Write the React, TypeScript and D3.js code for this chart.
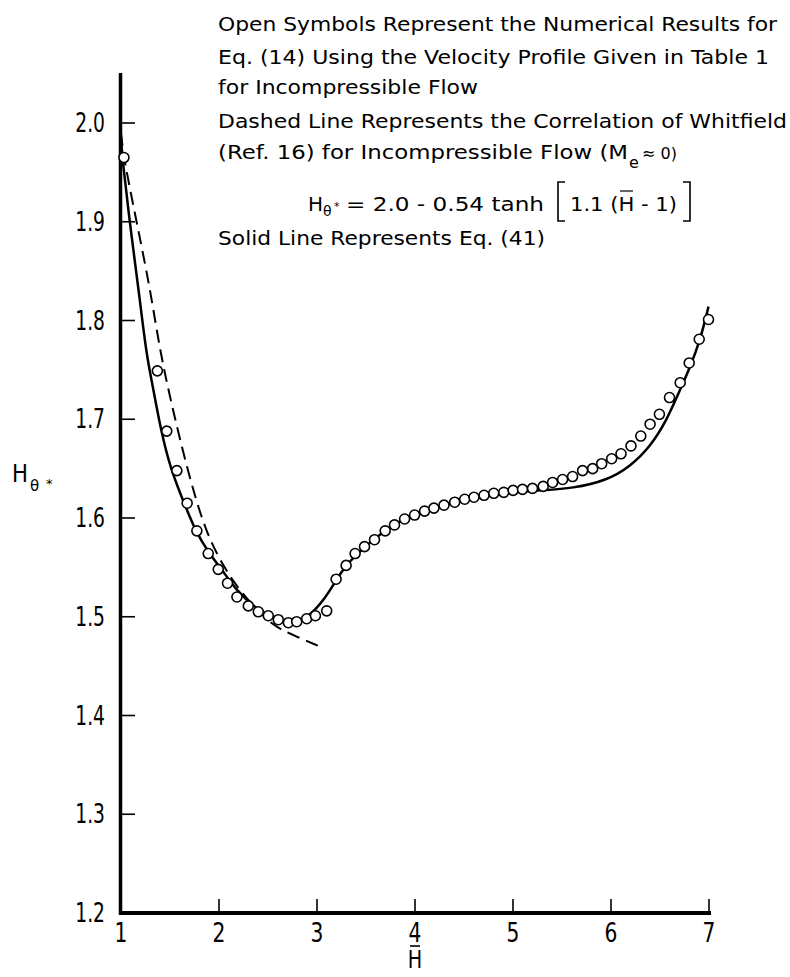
import React from "react";
import * as d3 from "d3";

const W = 790;
const H = 977;

// Open symbols: numerical results (Hbar, H_theta*)
const circleHbar = [1.03, 1.371, 1.467, 1.57, 1.675, 1.774, 1.89, 1.992, 2.087, 2.183, 2.299, 2.401, 2.503, 2.605, 2.708, 2.793, 2.895, 2.984, 3.099,
  3.195, 3.297, 3.389, 3.485, 3.587, 3.696, 3.791, 3.894, 3.996, 4.098, 4.193, 4.296, 4.405, 4.507, 4.602, 4.705, 4.804, 4.906, 5.001, 5.097, 5.199, 5.308,
  5.404, 5.506, 5.608, 5.71, 5.813, 5.905, 6.007, 6.102, 6.204, 6.304, 6.399, 6.494, 6.597, 6.706, 6.798, 6.9, 6.995];
const circleH = [1.965, 1.749, 1.688, 1.648, 1.615, 1.587, 1.564, 1.548, 1.534, 1.52, 1.511, 1.505, 1.501, 1.497, 1.494, 1.495, 1.498, 1.501, 1.506,
  1.538, 1.552, 1.564, 1.571, 1.578, 1.587, 1.593, 1.599, 1.603, 1.607, 1.61, 1.613, 1.616, 1.619, 1.621, 1.623, 1.625, 1.626, 1.628, 1.629, 1.63, 1.632,
  1.636, 1.639, 1.642, 1.648, 1.65, 1.655, 1.66, 1.665, 1.673, 1.683, 1.695, 1.705, 1.722, 1.737, 1.757, 1.781, 1.801];

// Solid line: Eq. (41)
const solidHbar = [1.0, 1.014, 1.116, 1.184, 1.26, 1.32, 1.406, 1.508, 1.644, 1.763, 1.9, 2.036, 2.173, 2.377, 2.616, 2.752, 2.922, 3.093, 3.195,
  3.3, 3.5, 3.7, 3.9, 4.1, 4.4, 4.7, 5.0, 5.274, 5.615, 5.956, 6.194, 6.399, 6.569, 6.706, 6.808, 6.91, 6.995];
const solidH = [1.985, 1.963, 1.878, 1.828, 1.765, 1.736, 1.689, 1.649, 1.615, 1.586, 1.564, 1.547, 1.527, 1.508, 1.495, 1.492, 1.5, 1.52, 1.537,
  1.553, 1.572, 1.588, 1.6, 1.608, 1.616, 1.622, 1.626, 1.628, 1.63, 1.638, 1.652, 1.672, 1.699, 1.73, 1.753, 1.78, 1.814];

// Dashed line: Whitfield correlation
const dashHbar = [1.0, 1.03, 1.184, 1.304, 1.4, 1.508, 1.627, 1.764, 1.9, 2.071, 2.207, 2.513, 2.718, 3.025];
const dashH = [1.99, 1.963, 1.888, 1.828, 1.768, 1.719, 1.669, 1.618, 1.578, 1.547, 1.527, 1.493, 1.483, 1.47];

const xTicks = [1, 2, 3, 4, 5, 6, 7];
const yTicks = [1.2, 1.3, 1.4, 1.5, 1.6, 1.7, 1.8, 1.9, 2.0];

const FONT = "'DejaVu Sans', 'Liberation Sans', sans-serif";

export default function App() {
  const x = d3.scaleLinear().domain([1, 7]).range([121, 709]);
  const y = d3.scaleLinear().domain([1.2, 2.0]).range([913, 123]);

  const line = d3
    .line<[number, number]>()
    .x((d) => x(d[0]))
    .y((d) => y(d[1]))
    .curve(d3.curveBasis);

  const solidPts = solidHbar.map((v, i) => [v, solidH[i]] as [number, number]);
  const dashPts = dashHbar.map((v, i) => [v, dashH[i]] as [number, number]);

  const headerLines = [
    { t: "Open Symbols Represent the Numerical Results for", y: 31, w: 559 },
    { t: "Eq. (14) Using the Velocity Profile Given in Table 1", y: 64, w: 551 },
    { t: "for  Incompressible Flow", y: 94, w: 260 },
    { t: "Dashed Line Represents the Correlation of Whitfield", y: 128, w: 569 },
    { t: "Solid Line Represents Eq. (41)", y: 245, w: 327 },
  ];

  return (
    <svg
      width={W}
      height={H}
      viewBox={`0 0 ${W} ${H}`}
      style={{ position: "absolute", left: 0, top: 0, background: "#fff" }}
      fontFamily={FONT}
    >
      <rect x={0} y={0} width={W} height={H} fill="#fff" />

      {/* Header text */}
      {headerLines.map((l, i) => (
        <text key={i} x={218} y={l.y} fontSize={20} textLength={l.w} lengthAdjust="spacingAndGlyphs" fill="#000">
          {l.t}
        </text>
      ))}
      <text x={218} y={159} fontSize={20} textLength={410} lengthAdjust="spacingAndGlyphs" fill="#000">
        (Ref.  16) for  Incompressible Flow (M
      </text>
      <text x={629} y={168} fontSize={16} fill="#000">e</text>
      <text x={642} y={159} fontSize={16} fill="#000">≈ 0)</text>

      {/* Formula */}
      <text x={308} y={211} fontSize={20} fill="#000">H</text>
      <text x={323} y={216} fontSize={14} fill="#000">θ</text>
      <text x={334} y={210} fontSize={11} fill="#000">*</text>
      <text x={346} y={211} fontSize={20} textLength={198} lengthAdjust="spacingAndGlyphs" fill="#000">
        = 2.0 - 0.54 tanh
      </text>
      <path d="M565,182 H558 V221 H565" fill="none" stroke="#000" strokeWidth={1.6} />
      <text x={570} y={211} fontSize={20} textLength={107} lengthAdjust="spacingAndGlyphs" fill="#000">
        1.1 (H - 1)
      </text>
      <line x1={620} x2={633} y1={191} y2={191} stroke="#000" strokeWidth={1.2} />
      <path d="M683,182 H690 V221 H683" fill="none" stroke="#000" strokeWidth={1.6} />

      {/* Axes */}
      <line x1={120.5} x2={120.5} y1={73} y2={915} stroke="#000" strokeWidth={3.5} />
      <line x1={119} x2={711} y1={913} y2={913} stroke="#000" strokeWidth={4} />

      {/* Y ticks and labels */}
      {yTicks.map((t) => (
        <g key={t}>
          {t > 1.2 && <line x1={121} x2={135} y1={y(t)} y2={y(t)} stroke="#000" strokeWidth={1.6} />}
          <g transform={`translate(105,${y(t) + 9}) scale(0.72,1)`}>
            <text x={0} y={0} fontSize={26} textAnchor="end" fill="#000">
              {t.toFixed(1)}
            </text>
          </g>
        </g>
      ))}

      {/* X ticks and labels */}
      {xTicks.map((t) => (
        <g key={t}>
          {t > 1 && <line x1={x(t)} x2={x(t)} y1={913} y2={899} stroke="#000" strokeWidth={1.6} />}
          <g transform={`translate(${x(t)},942) scale(0.75,1)`}>
            <text x={0} y={0} fontSize={27} textAnchor="middle" fill="#000">
              {t}
            </text>
          </g>
        </g>
      ))}

      {/* Axis titles */}
      <g transform={`translate(${x(4)},968) scale(0.8,1)`}>
        <text x={0} y={0} fontSize={24} textAnchor="middle" fill="#000">H</text>
      </g>
      <line x1={x(4) - 5} x2={x(4) + 5} y1={946} y2={946} stroke="#000" strokeWidth={1.6} />

      <g transform="translate(12,482) scale(0.85,1)">
        <text x={0} y={0} fontSize={25} fill="#000">H</text>
      </g>
      <text x={30} y={491} fontSize={15} fill="#000">θ</text>
      <text x={46} y={488} fontSize={13} fill="#000">*</text>

      {/* Curves */}
      <path d={line(dashPts) || ""} fill="none" stroke="#000" strokeWidth={2} strokeDasharray="13,7" />
      <path d={line(solidPts) || ""} fill="none" stroke="#000" strokeWidth={2.5} />

      {/* Open symbols */}
      {circleHbar.map((v, i) => (
        <circle key={i} cx={x(v)} cy={y(circleH[i])} r={5} fill="#fff" stroke="#000" strokeWidth={1.6} />
      ))}
    </svg>
  );
}
